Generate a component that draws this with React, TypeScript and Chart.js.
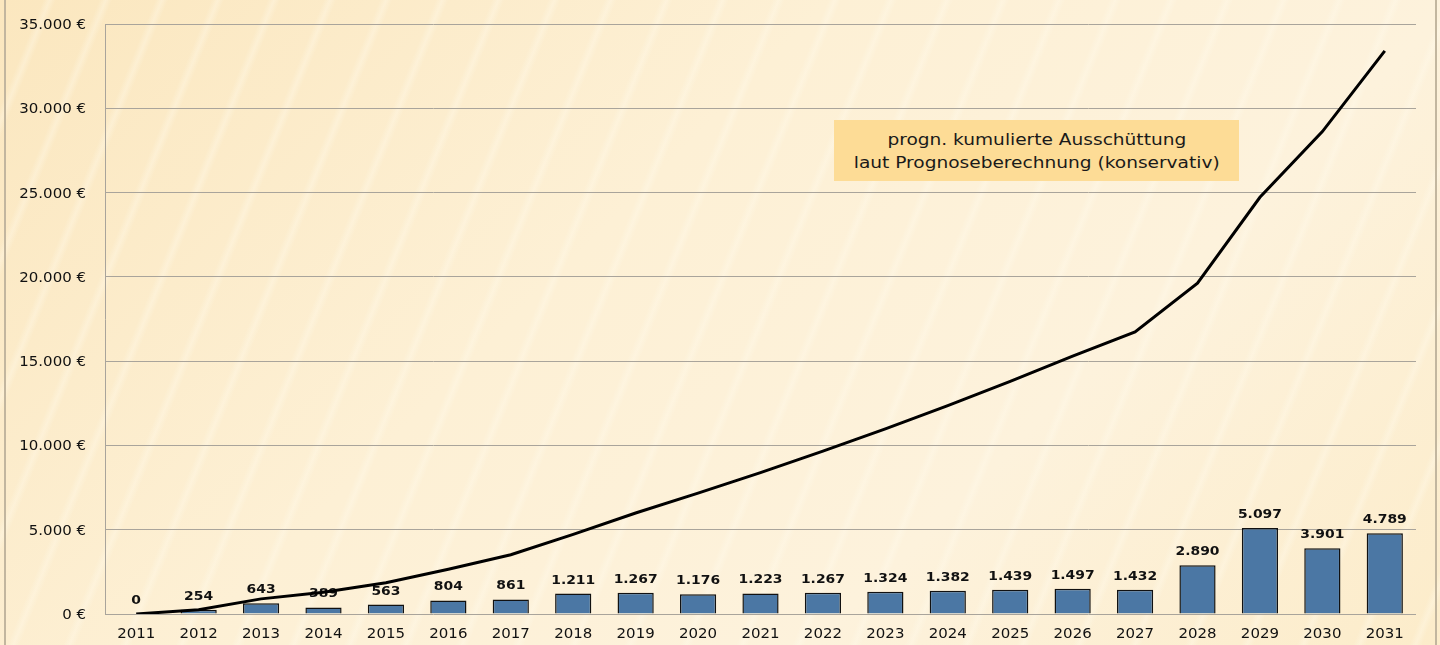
import React, { useEffect, useRef } from "react";
import { Chart, registerables } from "chart.js";

Chart.register(...registerables);

const years = ["2011","2012","2013","2014","2015","2016","2017","2018","2019","2020","2021","2022","2023","2024","2025","2026","2027","2028","2029","2030","2031"];
const annualPayout = [0,254,643,389,563,804,861,1211,1267,1176,1223,1267,1324,1382,1439,1497,1432,2890,5097,3901,4789];
const cumulativePayout = [0,254,897,1286,1849,2653,3514,4725,5992,7168,8391,9658,10982,12364,13803,15300,16732,19622,24719,28620,33409];
const yTickValues = [0,5000,10000,15000,20000,25000,30000,35000];
const noteLines = ["progn. kumulierte Ausschüttung", "laut Prognoseberechnung (konservativ)"];

const fmt = (v: number) => String(Math.round(v)).replace(/\B(?=(\d{3})+(?!\d))/g, ".");

const FONT = "'DejaVu Sans', Verdana, sans-serif";
const STRETCH = 1.07;

function stretchedText(ctx: CanvasRenderingContext2D, text: string, x: number, y: number, align: CanvasTextAlign) {
  ctx.save();
  ctx.translate(x, y);
  ctx.scale(STRETCH, 1);
  ctx.textAlign = align;
  ctx.fillText(text, 0, 0);
  ctx.restore();
}

const barLabels = {
  id: "barLabels",
  afterDatasetDraw(chart: any, args: any) {
    if (args.index !== 1) return;
    const ctx = chart.ctx;
    const meta = chart.getDatasetMeta(1);
    ctx.save();
    ctx.font = `bold 13px ${FONT}`;
    ctx.fillStyle = "#111";
    ctx.textBaseline = "alphabetic";
    meta.data.forEach((el: any, i: number) => {
      stretchedText(ctx, fmt(annualPayout[i]), el.x, el.y - 10, "center");
    });
    ctx.restore();
  },
};

const axisLabels = {
  id: "axisLabels",
  afterDraw(chart: any) {
    const ctx = chart.ctx;
    const xs = chart.scales.x;
    const ys = chart.scales.y;
    ctx.save();
    ctx.font = `14px ${FONT}`;
    ctx.fillStyle = "#111";
    ctx.textBaseline = "alphabetic";
    years.forEach((y, i) => {
      stretchedText(ctx, y, xs.getPixelForValue(i), chart.chartArea.bottom + 24, "center");
    });
    yTickValues.forEach((v) => {
      stretchedText(ctx, `${fmt(v)} €`, 86, ys.getPixelForValue(v) + 5, "right");
    });
    ctx.restore();
  },
};

export default function App() {
  const ref = useRef<HTMLCanvasElement | null>(null);
  useEffect(() => {
    document.body.style.margin = "0";
    const chart = new Chart(ref.current!, {
      type: "bar",
      data: {
        labels: years,
        datasets: [
          {
            type: "line",
            label: "kumuliert",
            data: cumulativePayout,
            borderColor: "#000",
            borderWidth: 3,
            pointRadius: 0,
            tension: 0,
            order: 0,
          } as any,
          {
            type: "bar",
            label: "Ausschüttung",
            data: annualPayout,
            backgroundColor: "#4b77a4",
            borderColor: "#111",
            borderWidth: 1.5,
            barPercentage: 0.58,
            categoryPercentage: 1,
            order: 1,
          },
        ],
      },
      options: {
        animation: false,
        responsive: false,
        maintainAspectRatio: false,
        layout: { padding: { top: 24, right: 24, left: 0, bottom: 0 } },
        plugins: { legend: { display: false }, tooltip: { enabled: false } },
        scales: {
          x: {
            offset: true,
            grid: { display: false, drawTicks: false },
            border: { display: false },
            ticks: { display: false, autoSkip: false },
            afterFit: (s: any) => { s.height = 31; },
          },
          y: {
            min: 0,
            max: 35000,
            afterBuildTicks: (s: any) => { s.ticks = yTickValues.map((v) => ({ value: v })); },
            grid: { color: "#a9a49b", lineWidth: 1, drawTicks: false },
            border: { display: true, color: "#a9a49b", width: 1 },
            ticks: { display: false },
            afterFit: (s: any) => { s.width = 105; },
          },
        },
      },
      plugins: [barLabels, axisLabels],
    });
    return () => chart.destroy();
  }, []);

  return (
    <div
      style={{
        position: "fixed",
        left: 0,
        top: 0,
        width: 1440,
        height: 645,
        overflow: "hidden",
        background:
          "repeating-linear-gradient(112deg, rgba(255,255,255,0) 0px, rgba(255,255,255,0) 40px, rgba(255,251,238,0.35) 46px, rgba(255,255,255,0) 52px), linear-gradient(135deg, #fbe7bf 0%, #fdf0d5 40%, #fdf2dc 70%, #fcecca 100%)",
      }}
    >
      <div style={{ position: "absolute", left: 4, top: 0, width: 2, height: 645, background: "#c2b69f" }} />
      <div style={{ position: "absolute", left: 1435, top: 0, width: 2, height: 645, background: "#c2b69f" }} />
      <canvas ref={ref} width={1440} height={645} style={{ position: "absolute", left: 0, top: 0, width: 1440, height: 645 }} />
      <div
        style={{
          position: "absolute",
          left: 834,
          top: 120,
          width: 405,
          height: 61,
          background: "#fddc96",
          fontFamily: FONT,
          fontSize: 16,
          lineHeight: "23px",
          color: "#1a1a1a",
          textAlign: "center",
          display: "flex",
          flexDirection: "column",
          justifyContent: "center",
          alignItems: "center",
        }}
      >
        {noteLines.map((l) => (
          <div key={l} style={{ transform: "scaleX(1.16)", whiteSpace: "nowrap" }}>{l}</div>
        ))}
      </div>
    </div>
  );
}
